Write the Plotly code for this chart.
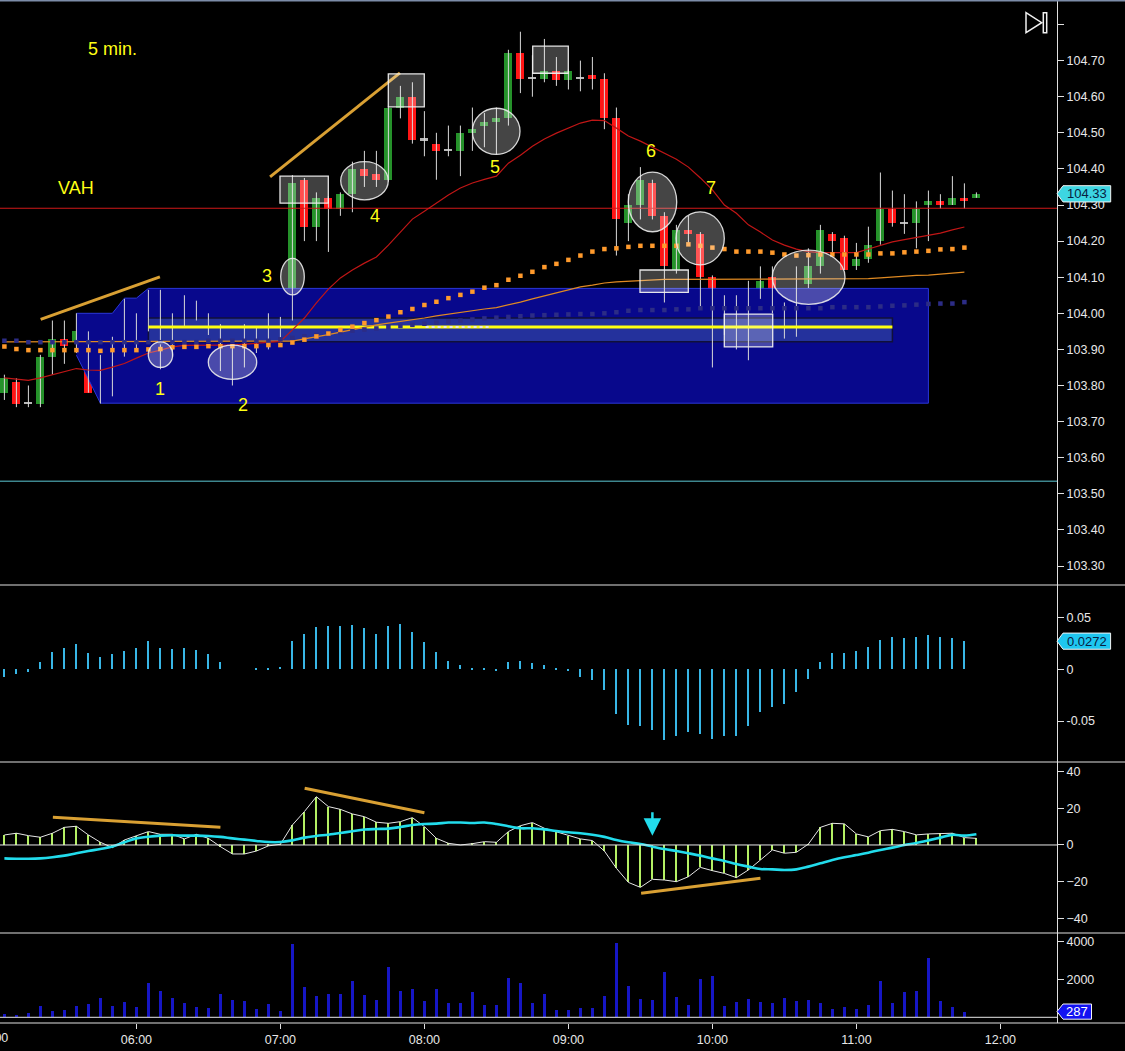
import plotly.graph_objects as go

# ---------------- data (5-minute bars, 05:05 .. 11:50) ----------------
bar_index = list(range(1, 83))
bar_minutes = [300 + 5 * i for i in bar_index]

opens = [103.78, 103.81, 103.752, 103.75, 103.88, 103.93, 103.92, 103.94, 103.78, 103.82,
         103.89, 103.95, 103.96, 104.06, 103.89, 103.97, 104.02, 103.99, 103.94, 103.89,
         103.89, 103.94, 103.93, 103.93, 104.00, 104.37, 104.24, 104.32, 104.29, 104.33,
         104.40, 104.385, 104.37, 104.57, 104.60, 104.485, 104.47, 104.45, 104.45, 104.50,
         104.52, 104.53, 104.54, 104.72, 104.65, 104.65, 104.67, 104.645, 104.65, 104.66,
         104.65, 104.54, 104.25, 104.30, 104.36, 104.27, 104.12, 104.23, 104.22, 104.10,
         103.96, 104.03, 103.92, 104.04, 104.10, 104.02, 103.94, 104.08, 104.13, 104.22,
         104.21, 104.13, 104.15, 104.20, 104.29, 104.25, 104.25, 104.30, 104.31, 104.30,
         104.32, 104.32]
highs = [103.83, 103.82, 103.80, 103.885, 103.98, 103.98, 104.00, 103.95, 103.885, 103.935,
         104.04, 104.00, 104.065, 104.065, 104.00, 104.05, 104.035, 104.00, 103.97, 103.91,
         103.97, 103.96, 104.00, 103.99, 104.383, 104.375, 104.335, 104.325, 104.335, 104.42,
         104.45, 104.45, 104.575, 104.63, 104.64, 104.56, 104.50, 104.52, 104.52, 104.57,
         104.555, 104.57, 104.73, 104.78, 104.715, 104.76, 104.71, 104.675, 104.70, 104.71,
         104.665, 104.57, 104.33, 104.405, 104.37, 104.28, 104.245, 104.27, 104.225, 104.105,
         104.05, 104.05, 104.09, 104.13, 104.13, 104.03, 104.13, 104.18, 104.245, 104.225,
         104.215, 104.195, 104.24, 104.39, 104.34, 104.33, 104.31, 104.34, 104.33, 104.38,
         104.36, 104.335]
lows = [103.76, 103.74, 103.74, 103.74, 103.83, 103.86, 103.89, 103.78, 103.75, 103.77,
        103.88, 103.90, 103.95, 103.845, 103.88, 103.96, 103.98, 103.94, 103.84, 103.80,
        103.85, 103.89, 103.90, 103.92, 103.98, 104.20, 104.20, 104.17, 104.27, 104.28,
        104.35, 104.35, 104.365, 104.54, 104.47, 104.435, 104.37, 104.435, 104.38, 104.45,
        104.46, 104.44, 104.52, 104.61, 104.60, 104.64, 104.63, 104.62, 104.615, 104.62,
        104.51, 104.16, 104.20, 104.26, 104.26, 104.03, 104.11, 104.19, 104.02, 103.85,
        103.94, 103.90, 103.87, 104.04, 104.00, 103.93, 103.935, 104.07, 104.11, 104.17,
        104.12, 104.12, 104.14, 104.19, 104.24, 104.22, 104.18, 104.20, 104.29, 104.30,
        104.29, 104.32]
closes = [103.82, 103.75, 103.75, 103.88, 103.93, 103.91, 103.95, 103.78, 103.82, 103.89,
          103.94, 103.96, 104.06, 103.90, 103.97, 104.01, 103.99, 103.95, 103.895, 103.88,
          103.95, 103.93, 103.94, 103.98, 104.36, 104.24, 104.32, 104.29, 104.33, 104.40,
          104.38, 104.37, 104.57, 104.60, 104.48, 104.48, 104.45, 104.455, 104.50, 104.51,
          104.53, 104.54, 104.72, 104.65, 104.652, 104.67, 104.645, 104.67, 104.652, 104.65,
          104.54, 104.26, 104.30, 104.37, 104.27, 104.13, 104.23, 104.22, 104.10, 103.98,
          104.02, 103.93, 104.05, 104.09, 104.01, 103.94, 104.07, 104.13, 104.23, 104.20,
          104.12, 104.15, 104.19, 104.29, 104.25, 104.252, 104.29, 104.31, 104.30, 104.32,
          104.31, 104.33]

ma_red = [103.821, 103.818, 103.814, 103.821, 103.829, 103.837, 103.847, 103.843, 103.842, 103.851,
          103.861, 103.876, 103.890, 103.898, 103.907, 103.911, 103.912, 103.912, 103.912, 103.912,
          103.915, 103.918, 103.919, 103.922, 103.954, 103.987, 104.029, 104.067, 104.098, 104.120,
          104.139, 104.156, 104.189, 104.225, 104.261, 104.283, 104.306, 104.328, 104.347, 104.361,
          104.371, 104.380, 104.416, 104.438, 104.463, 104.483, 104.499, 104.513, 104.527, 104.535,
          104.534, 104.513, 104.491, 104.477, 104.461, 104.444, 104.427, 104.405, 104.375, 104.342,
          104.300, 104.277, 104.245, 104.225, 104.203, 104.189, 104.178, 104.171, 104.168, 104.168,
          104.167, 104.168, 104.178, 104.189, 104.198, 104.204, 104.210, 104.215, 104.222, 104.231,
          104.239, None]
ma_orange = [103.921, 103.921, 103.921, 103.921, 103.921, 103.921, 103.921, 103.921, 103.921, 103.921,
             103.921, 103.921, 103.921, 103.921, 103.921, 103.921, 103.921, 103.921, 103.921, 103.921,
             103.921, 103.921, 103.921, 103.921, 103.923, 103.929, 103.934, 103.941, 103.948, 103.955,
             103.962, 103.968, 103.973, 103.977, 103.983, 103.987, 103.993, 103.998, 104.004, 104.008,
             104.012, 104.016, 104.023, 104.031, 104.040, 104.048, 104.056, 104.065, 104.073, 104.078,
             104.084, 104.087, 104.089, 104.091, 104.092, 104.094, 104.094, 104.094, 104.095, 104.096,
             104.096, 104.096, 104.096, 104.096, 104.094, 104.094, 104.094, 104.094, 104.094, 104.094,
             104.094, 104.095, 104.096, 104.098, 104.101, 104.102, 104.105, 104.106, 104.109, 104.112,
             104.114, None]
dots_orange = [103.908, 103.901, 103.898, 103.898, 103.898, 103.898, 103.898, 103.898, 103.896, 103.898,
               103.898, 103.898, 103.900, 103.901, 103.906, 103.907, 103.907, 103.909, 103.909, 103.909,
               103.909, 103.909, 103.912, 103.912, 103.919, 103.927, 103.936, 103.944, 103.954, 103.963,
               103.973, 103.981, 103.991, 104.003, 104.012, 104.023, 104.032, 104.042, 104.051, 104.060,
               104.071, 104.078, 104.093, 104.104, 104.115, 104.128, 104.137, 104.148, 104.160, 104.171,
               104.178, 104.180, 104.184, 104.187, 104.187, 104.187, 104.187, 104.191, 104.187, 104.182,
               104.178, 104.171, 104.171, 104.171, 104.168, 104.163, 104.160, 104.161, 104.163, 104.163,
               104.163, 104.163, 104.163, 104.166, 104.166, 104.169, 104.171, 104.173, 104.177, 104.178,
               104.182, None]
dots_navy = [103.924, 103.924, 103.920, 103.920, 103.920, 103.920, 103.920, 103.920, 103.920, 103.920,
             103.920, 103.920, 103.920, 103.920, 103.920, 103.920, 103.920, 103.924, 103.924, 103.924,
             103.924, 103.924, 103.924, 103.928, 103.932, 103.936, 103.940, 103.944, 103.948, 103.952,
             103.955, 103.958, 103.962, 103.965, 103.968, 103.971, 103.974, 103.977, 103.980, 103.983,
             103.986, 103.988, 103.990, 103.992, 103.994, 103.995, 103.996, 103.997, 103.998, 103.998,
             104.000, 104.003, 104.007, 104.009, 104.009, 104.009, 104.011, 104.011, 104.014, 104.014,
             104.014, 104.014, 104.014, 104.014, 104.014, 104.014, 104.014, 104.014, 104.014, 104.017,
             104.017, 104.017, 104.017, 104.019, 104.021, 104.022, 104.024, 104.026, 104.027, 104.027,
             104.031, None]

hist_vals = [-0.007, -0.005, -0.003, 0.0073, 0.017, 0.021, 0.0245, 0.016, 0.012, 0.0145,
             0.018, 0.021, 0.0277, 0.021, 0.0196, 0.021, 0.019, 0.0145, 0.0068, 0.0,
             0.0, 0.001, 0.0005, 0.002, 0.0274, 0.0338, 0.0412, 0.0419, 0.0419, 0.0431,
             0.0396, 0.0344, 0.0419, 0.0441, 0.0358, 0.0267, 0.017, 0.0083, 0.004, 0.0015,
             0.001, -0.002, 0.0073, 0.0077, 0.006, 0.004, 0.001, -0.002, -0.007, -0.010,
             -0.0196, -0.0433, -0.0538, -0.0544, -0.0591, -0.0686, -0.0645, -0.0608, -0.0623, -0.0677,
             -0.0645, -0.0649, -0.0544, -0.0411, -0.036, -0.0332, -0.0222, -0.0095, 0.0073, 0.0158,
             0.0158, 0.0177, 0.0215, 0.0288, 0.031, 0.0303, 0.0316, 0.0332, 0.0316, 0.030,
             0.0272, None]

osc_vals = [5.45, 6.4, 5.1, 4.2, 6.4, 9.6, 10.2, 5.45, 1.45, -1.45,
            2.7, 5.1, 7.3, 5.8, 5.8, 3.3, 5.8, 3.6, -0.9, -4.9,
            -4.9, -3.3, -0.5, 0.4, 10.9, 18.2, 26.3, 20.9, 19.4, 16.9,
            15.4, 12.4, 11.8, 12.7, 14.9, 10.0, 3.6, 0.9, 0.0, 0.7,
            1.8, 1.45, 7.3, 10.5, 12.2, 9.1, 7.3, 5.1, 3.3, 2.4,
            -3.3, -12.7, -20.4, -23.1, -18.7, -19.1, -20.0, -17.3, -12.2, -14.0,
            -15.5, -17.8, -13.6, -8.2, -2.7, -4.5, -4.0, 0.5, 9.6, 11.8,
            11.5, 6.0, 4.4, 7.8, 8.5, 7.3, 5.5, 6.0, 6.4, 6.4,
            4.0, 3.6]
osc_signal = [-7.3, -7.5, -7.5, -7.3, -6.7, -5.8, -4.5, -3.3, -2.2, -0.9,
              1.45, 3.6, 4.5, 5.1, 5.3, 5.1, 5.1, 4.9, 4.4, 3.6,
              2.9, 2.2, 1.6, 1.6, 2.5, 4.0, 4.9, 5.6, 6.5, 7.5,
              8.4, 8.7, 8.9, 9.8, 10.9, 11.4, 11.6, 12.2, 12.2, 12.0,
              12.2, 11.4, 10.2, 9.1, 9.1, 8.5, 7.6, 6.9, 6.4, 5.6,
              4.4, 2.7, 1.45, 0.5, -0.9, -2.2, -3.3, -4.5, -5.8, -7.3,
              -8.7, -10.4, -11.8, -13.1, -13.3, -13.6, -13.3, -11.8, -10.0, -8.2,
              -6.7, -5.5, -4.2, -2.7, -1.45, 0.0, 1.1, 2.5, 4.0, 5.5,
              5.1, 5.8]

volume = [175, 140, 245, 614, 351, 386, 596, 719, 1017, 596,
          807, 526, 1824, 1386, 1017, 772, 544, 491, 1245, 930,
          860, 456, 719, 351, 3876, 1613, 1140, 1210, 1245, 1911,
          1175, 930, 2665, 1386, 1491, 877, 1491, 772, 737, 1315,
          666, 666, 2087, 1824, 772, 1245, 386, 386, 509, 509,
          1140, 3929, 1666, 965, 930, 2385, 1070, 666, 2017, 2192,
          596, 824, 947, 824, 772, 1017, 842, 894, 737, 456,
          561, 456, 649, 1911, 772, 1333, 1403, 3121, 860, 544,
          287, None]

# developing value area (bars 7..78)
va_bars = list(range(7, 79))
va_high = [104.000, 104.000, 104.000, 104.000, 104.042, 104.042] + [104.069] * 66
va_low = [103.884, 103.818] + [103.751] * 70
poc_bars = (13, 75)
poc_level = 103.962
poc_band = (103.921, 103.987)
vah_level = 104.291
cyan_level = 103.535

last_price, last_hist, last_vol = 104.33, 0.0272, 287

price_ticks = [103.3, 103.4, 103.5, 103.6, 103.7, 103.8, 103.9, 104.0, 104.1, 104.2,
               104.3, 104.4, 104.5, 104.6, 104.7, 104.8]
price_ticktext = ["103.30", "103.40", "103.50", "103.60", "103.70", "103.80", "103.90", "104.00",
                  "104.10", "104.20", "104.30", "104.40", "104.50", "104.60", "104.70", ""]
hist_ticks, hist_ticktext = [-0.05, 0, 0.05], ["-0.05", "0", "0.05"]
osc_ticks = [-40, -20, 0, 20, 40]
vol_ticks = [2000, 4000]
time_ticks = [360, 420, 480, 540, 600, 660, 720]
time_ticktext = ["06:00", "07:00", "08:00", "09:00", "10:00", "11:00", "12:00"]

# ---------------- figure geometry ----------------
PW, PH = 1057.0, 1023.0          # plot area in pixels (margins l=0,t=0,r=68,b=28)
def fx(p):   # pixel x -> paper
    return p / PW
def fy(p):   # pixel y -> paper
    return (PH - p) / PH

def tm(i):   # bar index -> minutes
    return 300 + 5 * i

FONT = "Liberation Sans, Arial, sans-serif"
fig = go.Figure()

# value area polygon
va_x = [tm(i) for i in va_bars] + [tm(i) for i in reversed(va_bars)]
va_y = va_high + list(reversed(va_low))
fig.add_trace(go.Scatter(x=va_x, y=va_y, fill="toself", mode="lines",
                         fillcolor="#08088c", line=dict(color="#2a36d8", width=1),
                         xaxis="x", yaxis="y", hoverinfo="skip"))
# POC band
bx = [tm(poc_bars[0]), tm(poc_bars[1]), tm(poc_bars[1]), tm(poc_bars[0]), tm(poc_bars[0])]
by = [poc_band[1], poc_band[1], poc_band[0], poc_band[0], poc_band[1]]
fig.add_trace(go.Scatter(x=bx, y=by, fill="toself", mode="lines",
                         fillcolor="#24319c", line=dict(color="#10103a", width=1.5),
                         xaxis="x", yaxis="y", hoverinfo="skip"))

# candle wicks
wx, wy = [], []
for t, h, l in zip(bar_minutes, highs, lows):
    wx += [t, t, None]
    wy += [h, l, None]
fig.add_trace(go.Scatter(x=wx, y=wy, mode="lines", line=dict(color="#d8d8d8", width=1),
                         xaxis="x", yaxis="y", hoverinfo="skip"))
# candle bodies
bases, heights, colors = [], [], []
for o, c in zip(opens, closes):
    bases.append(min(o, c))
    heights.append(max(abs(c - o), 0.003))
    if abs(c - o) < 0.006:
        colors.append("#b8b8b8")
    elif c > o:
        colors.append("#25922a")
    else:
        colors.append("#ff1515")
fig.add_trace(go.Bar(x=bar_minutes, y=heights, base=bases, width=3.35,
                     marker=dict(color=colors, line=dict(width=0)),
                     xaxis="x", yaxis="y", hoverinfo="skip"))

# POC yellow line
fig.add_trace(go.Scatter(x=[tm(poc_bars[0]), tm(poc_bars[1])], y=[poc_level, poc_level],
                         mode="lines", line=dict(color="#ffff10", width=3),
                         xaxis="x", yaxis="y", hoverinfo="skip"))
fig.add_trace(go.Scatter(x=[480.5, 507.5], y=[poc_level, poc_level], mode="lines",
                         line=dict(color="#e8e8e8", width=2, dash="dot"),
                         xaxis="x", yaxis="y", hoverinfo="skip"))

# moving averages
fig.add_trace(go.Scatter(x=bar_minutes, y=ma_orange, mode="lines",
                         line=dict(color="#e08a22", width=1.2), xaxis="x", yaxis="y"))
fig.add_trace(go.Scatter(x=bar_minutes, y=ma_red, mode="lines",
                         line=dict(color="#c01616", width=1.2), xaxis="x", yaxis="y"))
fig.add_trace(go.Scatter(x=bar_minutes, y=dots_navy, mode="markers",
                         marker=dict(symbol="square", size=4.5, color="#2c2c86"),
                         xaxis="x", yaxis="y"))
fig.add_trace(go.Scatter(x=bar_minutes, y=dots_orange, mode="markers",
                         marker=dict(symbol="square", size=4.5, color="#ff9a2c"),
                         xaxis="x", yaxis="y"))

# histogram panel
fig.add_trace(go.Bar(x=bar_minutes, y=hist_vals, width=0.7,
                     marker=dict(color="#38b6e6", line=dict(width=0)),
                     xaxis="x", yaxis="y2"))
# oscillator panel
fig.add_trace(go.Bar(x=bar_minutes, y=osc_vals, width=0.6,
                     marker=dict(color="#b4f064", line=dict(width=0)),
                     xaxis="x", yaxis="y3"))
fig.add_trace(go.Scatter(x=bar_minutes, y=osc_vals, mode="lines",
                         line=dict(color="#e6e6e6", width=1), xaxis="x", yaxis="y3"))
fig.add_trace(go.Scatter(x=bar_minutes, y=osc_signal, mode="lines",
                         line=dict(color="#22dcec", width=2.6, shape="spline"),
                         xaxis="x", yaxis="y3"))
# volume panel
fig.add_trace(go.Bar(x=bar_minutes, y=volume, width=1.1,
                     marker=dict(color="#1616c4", line=dict(width=0)),
                     xaxis="x", yaxis="y4"))

# ---------------- shapes ----------------
shapes = []
LINE = "#e0e0e0"
# panel separators and top border
for p in (585, 762, 933, 1023):
    shapes.append(dict(type="line", xref="paper", yref="paper", x0=0, x1=1125 / PW,
                       y0=fy(p), y1=fy(p), line=dict(color=LINE, width=1), layer="above"))
shapes.append(dict(type="line", xref="paper", yref="paper", x0=0, x1=1125 / PW,
                   y0=fy(0.5), y1=fy(0.5), line=dict(color="#7c8ca8", width=2)))
# horizontal reference lines
shapes.append(dict(type="line", xref="paper", yref="y", x0=0, x1=1, y0=vah_level, y1=vah_level,
                   line=dict(color="#d01818", width=1)))
shapes.append(dict(type="line", xref="paper", yref="y", x0=0, x1=1, y0=cyan_level, y1=cyan_level,
                   line=dict(color="#5cc8d4", width=1)))
shapes.append(dict(type="line", xref="paper", yref="y3", x0=0, x1=1, y0=0, y1=0,
                   line=dict(color="#e8e8e8", width=1)))
shapes.append(dict(type="line", xref="paper", yref="y4", x0=0, x1=1, y0=0, y1=0,
                   line=dict(color="#e8e8e8", width=1)))

# orange trend lines
GOLD = "#d9a033"
for (x0, y0, x1, y1, yr) in [(320.1, 103.983, 369.8, 104.101, "y"),
                             (415.7, 104.378, 469.8, 104.666, "y"),
                             (325.2, 15.1, 395.0, 9.6, "y3"),
                             (430.1, 30.9, 480.0, 17.6, "y3"),
                             (570.3, -26.3, 620.0, -18.1, "y3")]:
    shapes.append(dict(type="line", xref="x", yref=yr, x0=x0, x1=x1, y0=y0, y1=y1,
                       line=dict(color=GOLD, width=3), layer="above"))

# highlight ellipses
for (x0, x1, y0, y1) in [(364.96, 375.13, 103.850, 103.921),
                         (389.96, 410.13, 103.817, 103.912),
                         (420.13, 429.96, 104.051, 104.152),
                         (445.13, 464.96, 104.314, 104.420),
                         (500.0, 519.83, 104.440, 104.568),
                         (564.96, 585.13, 104.226, 104.391),
                         (584.83, 604.96, 104.134, 104.281),
                         (624.96, 655.25, 104.025, 104.175)]:
    shapes.append(dict(type="circle", xref="x", yref="y", x0=x0, x1=x1, y0=y0, y1=y1,
                       fillcolor="rgba(255,255,255,0.27)",
                       line=dict(color="rgba(235,235,235,0.9)", width=1.3), layer="above"))
# highlight rectangles
for (x0, x1, y0, y1) in [(419.83, 439.96, 104.305, 104.380),
                         (464.96, 479.96, 104.572, 104.663),
                         (525.13, 539.96, 104.665, 104.740),
                         (569.83, 589.96, 104.058, 104.120),
                         (604.96, 625.13, 103.907, 103.998)]:
    shapes.append(dict(type="rect", xref="x", yref="y", x0=x0, x1=x1, y0=y0, y1=y1,
                       fillcolor="rgba(255,255,255,0.25)",
                       line=dict(color="rgba(240,240,240,0.95)", width=1.3), layer="above"))

# icon at top right
shapes.append(dict(type="path", xref="paper", yref="paper",
                   path=f"M {fx(1026)},{fy(12.7)} L {fx(1026)},{fy(32.7)} L {fx(1041.7)},{fy(22.7)} Z",
                   line=dict(color="#f0f0f0", width=1.5), fillcolor="rgba(0,0,0,0)", layer="above"))
shapes.append(dict(type="rect", xref="paper", yref="paper", x0=fx(1043.3), x1=fx(1046.7),
                   y0=fy(32.7), y1=fy(12.7), line=dict(color="#f0f0f0", width=1.5), layer="above"))

# last-value tags on the right axis
def tag(yref, val, half, right_px, fill):
    x0, x1, x2 = fx(1057), fx(1063), fx(right_px)
    return dict(type="path", xref="paper", yref=yref,
                path=(f"M {x0},{val} L {x1},{val + half} L {x2},{val + half} "
                      f"L {x2},{val - half} L {x1},{val - half} Z"),
                fillcolor=fill, line=dict(color="#f4f4f4", width=1), layer="above")
shapes.append(tag("y", last_price + 0.001, 0.0225, 1110.7, "#3dd6e2"))
shapes.append(tag("y2", last_hist, 0.0078, 1110.6, "#1ec6f0"))
shapes.append(tag("y4", 300, 400, 1091.5, "#1212f2"))

# ---------------- annotations ----------------
ann = []
YEL = "#ffff14"
for txt, x, y in [("1", 369.8, 103.790), ("2", 404.4, 103.746), ("3", 414.4, 104.103),
                  ("4", 459.4, 104.270), ("5", 509.4, 104.405), ("6", 574.4, 104.450),
                  ("7", 599.4, 104.347)]:
    ann.append(dict(text=txt, x=x, y=y, xref="x", yref="y", showarrow=False,
                    xanchor="center", yanchor="middle",
                    font=dict(family=FONT, size=18, color=YEL)))
ann.append(dict(text="5 min.", x=fx(112), y=fy(49), xref="paper", yref="paper", showarrow=False,
                xanchor="center", yanchor="middle", font=dict(family=FONT, size=18, color=YEL)))
ann.append(dict(text="VAH", x=fx(76), y=fy(188), xref="paper", yref="paper", showarrow=False,
                xanchor="center", yanchor="middle", font=dict(family=FONT, size=18, color=YEL)))
# cyan arrow on oscillator
ann.append(dict(text="", x=575, y=5.0, xref="x", yref="y3", ax=0, ay=-25, showarrow=True,
                arrowhead=2, arrowsize=1.4, arrowwidth=2.5, arrowcolor="#22dcec"))
# tag texts
ann.append(dict(text=f"{last_price:.2f}", x=fx(1087), y=last_price + 0.001, xref="paper", yref="y",
                xanchor="center", yanchor="middle",
                showarrow=False, font=dict(family=FONT, size=13, color="#082040")))
ann.append(dict(text=f"{last_hist:.4f}", x=fx(1087), y=last_hist, xref="paper", yref="y2",
                xanchor="center", yanchor="middle",
                showarrow=False, font=dict(family=FONT, size=13, color="#082040")))
ann.append(dict(text=str(last_vol), x=fx(1077), y=300, xref="paper", yref="y4",
                xanchor="center", yanchor="middle",
                showarrow=False, font=dict(family=FONT, size=13, color="#ffffff")))
# partially visible 05:00 label at the left edge
ann.append(dict(text="05:00", x=fx(-7.6), y=fy(1038), xref="paper", yref="paper",
                xanchor="center", yanchor="middle",
                showarrow=False, font=dict(family=FONT, size=12.5, color="#e8e8e8")))

# ---------------- layout ----------------
def yax(domain, rng, tickvals, ticktext=None):
    d = dict(domain=domain, range=rng, side="right", anchor="x", showgrid=False,
             zeroline=False, showline=True, linecolor=LINE, linewidth=1,
             ticks="outside", ticklen=6, tickcolor=LINE, tickvals=tickvals,
             tickfont=dict(family=FONT, size=12.5, color="#e8e8e8"), fixedrange=True)
    if ticktext is not None:
        d["ticktext"] = ticktext
    return d

fig.update_layout(
    width=1125, height=1051,
    margin=dict(l=0, r=68, t=0, b=28),
    paper_bgcolor="#000000", plot_bgcolor="#000000",
    showlegend=False, barmode="overlay", bargap=0,
    xaxis=dict(domain=[0, 1], anchor="y4", range=[303.167, 743.583],
               tickvals=time_ticks, ticktext=time_ticktext, ticks="outside", ticklen=5,
               tickcolor=LINE, showgrid=False, zeroline=False, showline=False,
               tickfont=dict(family=FONT, size=12.5, color="#e8e8e8")),
    yaxis=yax([fy(585), 1.0], [103.2474, 104.8679], price_ticks, price_ticktext),
    yaxis2=yax([fy(762), fy(585)], [-0.0896, 0.0815], hist_ticks, hist_ticktext),
    yaxis3=yax([fy(933), fy(762)], [-47.96, 45.2], osc_ticks),
    yaxis4=yax([0.0, fy(933)], [-300, 4437], vol_ticks),
    shapes=shapes, annotations=ann,
)

fig.write_html("out.html", config={"displayModeBar": False},
               post_script="document.body.style.margin='0px';document.body.style.overflow='hidden';document.body.style.background='#000';")
